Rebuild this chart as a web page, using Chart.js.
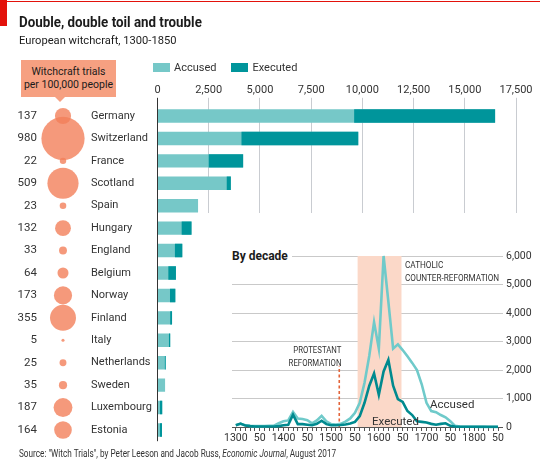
<!DOCTYPE html>
<html>
<head>
<meta charset="utf-8">
<script src="https://cdn.jsdelivr.net/npm/chart.js@4.4.1/dist/chart.umd.min.js"></script>
<style>
  body { margin: 0; background: #fff; }
  #wrap { position: relative; width: 540px; height: 464px; overflow: hidden; font-family: Roboto, "Open Sans", sans-serif; color: #1b1b1b; }
  .abs { position: absolute; white-space: nowrap; }
  #topline { left: 0; top: 1px; width: 540px; height: 1px; background: #e3120b; }
  #redbox { left: 0; top: 0; width: 7px; height: 26px; background: #e3120b; }
  #title { left: 19px; top: 13px; font-size: 15px; font-weight: bold; transform: scaleX(0.89); transform-origin: left; }
  #subtitle { left: 19px; top: 33px; font-size: 11.5px; transform: scaleX(0.97); transform-origin: left; }
  .swatch { display: inline-block; width: 17px; height: 9px; vertical-align: -1px; margin-right: 4px; }
  #legend { left: 153px; top: 61px; font-size: 11px; color: #333; }
  #trialsbox { left: 21px; top: 60px; width: 95px; height: 37px; background: #f6a081; font-size: 10.5px; line-height: 12.5px; text-align: center; padding-top: 6px; box-sizing: border-box; }
  #pointer { left: 55px; top: 97px; width: 0; height: 0; border-left: 5px solid transparent; border-right: 5px solid transparent; border-top: 5px solid #f6a081; }
  #inset { left: 200px; top: 213px; width: 340px; height: 232px; background: #fff; }
  #decade { left: 30px; top: 36px; width: 60px; height: 16px; background: #fff; font-weight: bold; font-size: 12px; padding-left: 2px; }
  .note { font-size: 9.5px; line-height: 12.5px; color: #333; }
  #source { left: 19px; top: 448px; font-size: 10px; color: #333; transform: scaleX(0.82); transform-origin: left; }
</style>
</head>
<body>
<div id="wrap">
  <canvas id="bars" class="abs" width="540" height="464" style="left:0;top:0"></canvas>
  <canvas id="bubbles" class="abs" width="91" height="464" style="left:0;top:0"></canvas>
  <div id="topline" class="abs"></div>
  <div id="redbox" class="abs"></div>
  <div id="title" class="abs">Double, double toil and trouble</div>
  <div id="subtitle" class="abs">European witchcraft, 1300-1850</div>
  <div id="legend" class="abs"><span class="swatch" style="background:#76c8c8"></span>Accused<span class="swatch" style="background:#00959b;margin-left:15px"></span>Executed</div>
  <div id="trialsbox" class="abs">Witchcraft trials<br>per 100,000 people</div>
  <div id="pointer" class="abs"></div>
  <div id="inset" class="abs">
    <canvas id="decades" width="340" height="232"></canvas>
    <div id="decade" class="abs">By decade</div>
    <div class="abs note" style="right:199px;top:131px;text-align:right;transform:scaleX(0.82);transform-origin:right">PROTESTANT<br>REFORMATION</div>
    <div class="abs note" style="left:205px;top:46px;transform:scaleX(0.86);transform-origin:left">CATHOLIC<br>COUNTER-REFORMATION</div>
    <div class="abs" style="left:230px;top:184px;font-size:11.5px;color:#333">Accused</div>
    <div class="abs" style="left:172px;top:201px;font-size:11.5px;color:#333">Executed</div>
  </div>
  <div id="source" class="abs">Source: "Witch Trials", by Peter Leeson and Jacob Russ, <i>Economic Journal</i>, August 2017</div>
</div>
<script>
// Paesi e valori
const countries = ['Germany', 'Switzerland', 'France', 'Scotland', 'Spain', 'Hungary', 'England', 'Belgium',
  'Norway', 'Finland', 'Italy', 'Netherlands', 'Sweden', 'Luxembourg', 'Estonia'];
const trialsPer100k = [137, 980, 22, 509, 23, 132, 33, 64, 173, 355, 5, 25, 35, 187, 164];
const accused = [16480, 9800, 4180, 3580, 1980, 1660, 1210, 900, 870, 710, 620, 400, 370, 230, 220];
const executed = [6880, 5700, 1680, 200, 0, 480, 360, 370, 260, 90, 60, 40, 0, 110, 100];
const barTicks = [0, 2500, 5000, 7500, 10000, 12500, 15000, 17500];

// Serie per decennio
const decades = [1300, 1310, 1320, 1330, 1340, 1350, 1360, 1370, 1380, 1390,
  1400, 1410, 1420, 1430, 1440, 1450, 1460, 1470, 1480, 1490,
  1500, 1510, 1520, 1530, 1540, 1550, 1560, 1570, 1580, 1590,
  1600, 1610, 1620, 1630, 1640, 1650, 1660, 1670, 1680, 1690,
  1700, 1710, 1720, 1730, 1740, 1750, 1760, 1770, 1780, 1790,
  1800, 1810, 1820, 1830, 1840, 1850];
const accusedByDecade = [60, 110, 60, 40, 30, 30, 30, 40, 50, 130,
  200, 230, 530, 300, 280, 240, 130, 230, 390, 200,
  100, 90, 110, 190, 300, 500, 850, 1550, 2500, 3680,
  2750, 6000, 4400, 2750, 2900, 2700, 2480, 2250, 2000, 1500,
  850, 560, 520, 420, 340, 200, 40, 20, 10, 10,
  10, 5, 5, 0, 0, 0];
const executedByDecade = [60, 120, 50, 30, 20, 20, 20, 20, 20, 30,
  60, 80, 430, 100, 100, 80, 60, 110, 220, 100,
  60, 60, 70, 90, 120, 180, 380, 850, 1450, 1880,
  1130, 1950, 2360, 1450, 980, 880, 560, 420, 200, 180,
  160, 110, 80, 110, 130, 40, 20, 10, 10, 10,
  10, 10, 10, 10, 10, 10];
const decadeTicks = [0, 1000, 2000, 3000, 4000, 5000, 6000];
const counterReformation = [1555, 1648];
const protestantReformation = 1517;
const reformationLineTop = 2150;

const fmt = v => v.toLocaleString('en-US');
const textColor = '#333';

// Grafico a barre orizzontali
new Chart(document.getElementById('bars'), {
  type: 'bar',
  data: {
    labels: countries,
    datasets: [
      { label: 'Accused', data: accused, backgroundColor: '#76c8c8', grouped: false, order: 2 },
      { label: 'Executed', data: accused.map((a, i) => [a - executed[i], a]), backgroundColor: '#00959b', grouped: false, order: 1 }
    ]
  },
  options: {
    indexAxis: 'y',
    responsive: false,
    animation: false,
    events: [],
    layout: { padding: { left: 91, top: 84.8, right: 24, bottom: 22.8 } },
    plugins: { legend: { display: false }, tooltip: { enabled: false } },
    datasets: { bar: { categoryPercentage: 1, barPercentage: 0.6 } },
    scales: {
      x: {
        position: 'top', min: 0, max: 17500,
        afterBuildTicks: s => { s.ticks = barTicks.map(v => ({ value: v })); },
        ticks: { callback: v => fmt(v), font: { family: 'Roboto', size: 11 }, color: textColor, padding: 1, maxRotation: 0 },
        grid: { color: c => c.tick.value === 0 ? '#333' : '#c9ccd1', tickLength: 7 },
        border: { display: false },
        afterFit: s => { s.height = 20; }
      },
      y: {
        ticks: { crossAlign: 'far', font: { family: 'Roboto', size: 11 }, color: textColor, padding: 0 },
        grid: { display: false, drawTicks: false },
        border: { display: false },
        afterFit: s => { s.width = 66.5; }
      }
    }
  }
});

// Bolle: processi per 100.000 abitanti
new Chart(document.getElementById('bubbles'), {
  type: 'bubble',
  data: {
    datasets: [{
      data: countries.map((c, i) => ({ x: 0.5, y: c, r: Math.sqrt(trialsPer100k[i]) * 0.69 })),
      backgroundColor: 'rgba(242, 128, 90, 0.8)',
      borderWidth: 0,
      clip: false
    }]
  },
  options: {
    responsive: false,
    animation: false,
    events: [],
    layout: { autoPadding: false, padding: { left: 0, top: 104.8, right: 5, bottom: 22.8 } },
    plugins: { legend: { display: false }, tooltip: { enabled: false } },
    scales: {
      x: { display: false, min: 0, max: 1 },
      y: {
        type: 'category', labels: countries, offset: true,
        ticks: { callback: (v, i) => trialsPer100k[i], font: { family: 'Roboto', size: 11.5 }, color: textColor, padding: 3 },
        grid: { display: false, drawTicks: false },
        border: { display: false },
        afterFit: s => { s.width = 40; }
      }
    }
  }
});

// Grafico per decennio
new Chart(document.getElementById('decades'), {
  type: 'line',
  data: {
    datasets: [
      {
        data: counterReformation.map(x => ({ x: x, y: 6000 })),
        fill: 'origin', backgroundColor: '#fbd8c8', borderWidth: 0, pointRadius: 0, order: 4
      },
      {
        data: [{ x: protestantReformation, y: 0 }, { x: protestantReformation, y: reformationLineTop }],
        borderColor: '#e3643a', borderWidth: 1.6, borderDash: [3, 2.5], pointRadius: 0, order: 3
      },
      {
        label: 'Accused', data: decades.map((d, i) => ({ x: d, y: accusedByDecade[i] })),
        borderColor: '#6fcaca', borderWidth: 2.6, pointRadius: 0, tension: 0, order: 2, clip: false
      },
      {
        label: 'Executed', data: decades.map((d, i) => ({ x: d, y: executedByDecade[i] })),
        borderColor: '#008a8f', borderWidth: 2.6, pointRadius: 0, tension: 0, order: 1, clip: false
      }
    ]
  },
  options: {
    responsive: false,
    animation: false,
    events: [],
    layout: { padding: { left: 32, top: 43, right: 0, bottom: 0 } },
    plugins: { legend: { display: false }, tooltip: { enabled: false } },
    scales: {
      x: {
        type: 'linear', min: 1292, max: 1850,
        afterBuildTicks: s => { s.ticks = decades.map(v => ({ value: v })); },
        ticks: {
          autoSkip: false, maxRotation: 0, padding: 1, color: textColor, font: { family: 'Roboto', size: 10.5 },
          callback: v => v % 100 === 0 ? String(v) : (v % 50 === 0 ? '50' : '')
        },
        grid: { drawOnChartArea: false, tickLength: 4, color: '#555' },
        border: { display: false },
        afterFit: s => { s.height = 18; }
      },
      y: {
        position: 'right', min: 0, max: 6000,
        afterBuildTicks: s => { s.ticks = decadeTicks.map(v => ({ value: v })); },
        ticks: { callback: v => fmt(v), padding: 3, color: textColor, font: { family: 'Roboto', size: 10.5 } },
        grid: { color: c => c.tick.value === 0 ? '#555' : '#c9c9c9', tickLength: 5 },
        border: { display: false },
        afterFit: s => { s.width = 42; }
      }
    }
  }
});
</script>
</body>
</html>
